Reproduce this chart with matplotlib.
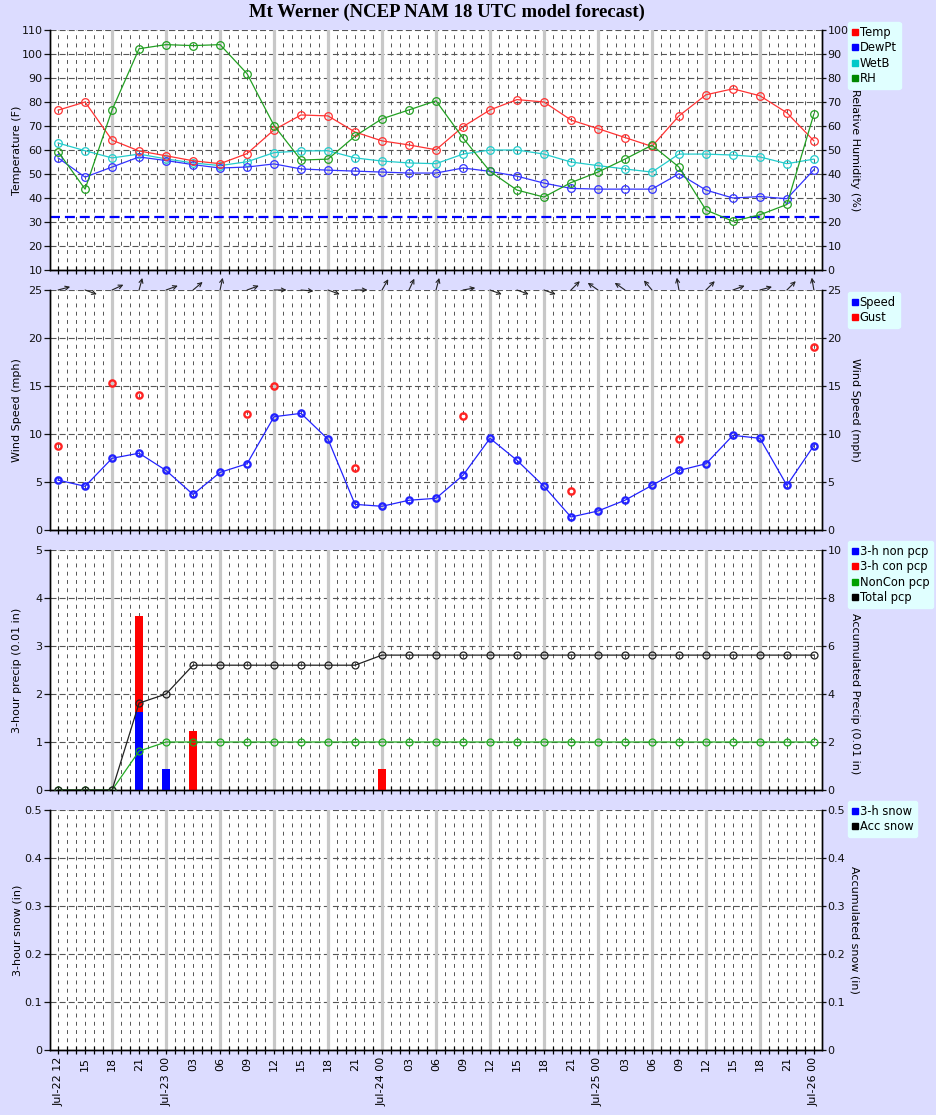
import numpy as np
import matplotlib
matplotlib.use("Agg")
import matplotlib.pyplot as plt
from matplotlib.lines import Line2D
from matplotlib.ticker import MultipleLocator, FuncFormatter
from matplotlib.transforms import offset_copy

# forecast hours from Jul-22 12 UTC, every 3 h
hours = np.arange(0, 85, 3)
tick_labels = ["Jul-22 12", "15", "18", "21",
               "Jul-23 00", "03", "06", "09", "12", "15", "18", "21",
               "Jul-24 00", "03", "06", "09", "12", "15", "18", "21",
               "Jul-25 00", "03", "06", "09", "12", "15", "18", "21",
               "Jul-26 00"]

temp = [76.6, 80.0, 64.1, 59.6, 57.6, 55.5, 54.3, 58.5, 68.4, 74.6, 74.2, 67.5,
        63.8, 62.1, 60.1, 69.7, 76.7, 81.0, 80.0, 72.5, 68.9, 65.2, 61.5, 74.2,
        83.0, 85.5, 82.6, 75.5, 63.8]
dewpt = [56.7, 48.7, 52.9, 57.1, 55.6, 53.9, 52.5, 52.9, 54.2, 52.1, 51.6, 51.2,
         50.8, 50.4, 50.4, 52.5, 51.1, 49.1, 46.2, 44.0, 43.7, 43.7, 43.7, 50.1,
         43.3, 40.0, 40.6, 39.7, 51.8]
wetb = [62.9, 59.7, 56.7, 58.3, 56.3, 54.6, 53.5, 55.1, 58.9, 59.6, 59.7, 56.7,
        55.4, 54.6, 54.3, 58.3, 60.0, 60.0, 58.3, 55.0, 53.5, 52.1, 50.8, 58.3,
        58.3, 57.9, 57.1, 54.3, 56.2]
rh = [49.3, 33.7, 66.7, 92.2, 93.9, 93.5, 93.9, 81.8, 60.2, 45.8, 46.2, 55.8,
      63.0, 66.7, 70.5, 55.0, 41.1, 33.3, 30.4, 36.4, 40.8, 46.2, 52.0, 42.9,
      25.0, 20.3, 23.0, 27.3, 65.0]

speed = [5.2, 4.55, 7.47, 8.0, 6.2, 3.7, 6.0, 6.9, 11.8, 12.15, 9.45, 2.67,
         2.47, 3.1, 3.3, 5.7, 9.55, 7.26, 4.55, 1.35, 1.98, 3.1, 4.65, 6.2,
         6.9, 9.86, 9.55, 4.65, 8.8]
nan = np.nan
gust = [8.7, nan, 15.3, 14.1, nan, nan, nan, 12.05, 15.0, nan, nan, 6.5,
        nan, nan, nan, 11.85, nan, nan, nan, 4.05, nan, nan, nan, 9.45,
        nan, nan, nan, nan, 19.05]
# direction the wind blows from (deg)
wind_dir = [255, 290, 245, 195, 250, 230, 192, 250, 270, 275, 290, 270,
            210, 205, 195, 260, 290, 290, 290, 225, 125, 125, 140, 170,
            225, 250, 255, 225, 170]

pcp_non = [0, 0, 0, 1.62, 0.44, 0, 0, 0, 0, 0, 0, 0, 0, 0, 0, 0, 0, 0, 0, 0,
           0, 0, 0, 0, 0, 0, 0, 0, 0]
pcp_con = [0, 0, 0, 2.0, 0, 1.23, 0, 0, 0, 0, 0, 0, 0.44, 0, 0, 0, 0, 0, 0, 0,
           0, 0, 0, 0, 0, 0, 0, 0, 0]
acc_noncon = [0, 0, 0, 1.62] + [2.0] * 25
acc_total = [0, 0, 0, 3.62, 4.0] + [5.2] * 7 + [5.62] * 17

BG = "#dcdcff"
W, H = 937, 1115
L, PW, PH = 50, 772, 240
FS = 8

plt.rcParams["font.family"] = "DejaVu Sans"
fig = plt.figure(figsize=(W / 100, H / 100), dpi=100, facecolor=BG)


def make_panel(top, ylim_l, step_l, ylim_r, step_r, fmt=None, bottom=False):
    ax = fig.add_axes([L / W, 1 - (top + PH) / H, PW / W, PH / H])
    ax.set_facecolor("white")
    ax.set_xlim(-0.9, 84.9)
    ax.set_ylim(*ylim_l)
    ax.xaxis.set_major_locator(MultipleLocator(3))
    ax.xaxis.set_minor_locator(MultipleLocator(1))
    ax.yaxis.set_major_locator(MultipleLocator(step_l))
    ax.set_axisbelow(True)
    ax.grid(axis="x", which="both", color="#555555", lw=0.7, ls=(0, (4, 4.5)))
    ax.grid(axis="y", which="major", color="#555555", lw=0.8, ls=(0, (5.4, 2.8)))
    for h in range(6, 84, 6):
        ax.axvline(h, color="#c8c8c8", lw=2.3, zorder=1)
    ax.tick_params(axis="x", which="both", direction="inout", length=6,
                   width=0.9, colors="black")
    ax.tick_params(axis="y", direction="out", length=4, width=0.9, pad=1.5,
                   labelsize=FS, colors="#111111")
    ax.spines["top"].set_visible(False)
    if bottom:
        ax.set_xticks(hours)
        ax.set_xticklabels(tick_labels, rotation=90, fontsize=FS)
        ax.tick_params(axis="x", which="major", pad=2)
    else:
        ax.tick_params(axis="x", labelbottom=False)
    tw = ax.twinx()
    tw.set_ylim(*ylim_r)
    tw.yaxis.set_major_locator(MultipleLocator(step_r))
    tw.tick_params(axis="y", direction="out", length=3, width=0.9, pad=1,
                   labelsize=FS, colors="#111111")
    tw.spines["top"].set_visible(False)
    if fmt is not None:
        ax.yaxis.set_major_formatter(FuncFormatter(fmt))
        tw.yaxis.set_major_formatter(FuncFormatter(fmt))
    for a in (ax, tw):
        for s in a.spines.values():
            s.set_linewidth(1.0)
    return ax, tw


def set_labels(ax, tw, left, right, ry=0.5):
    ax.set_ylabel(left, fontsize=FS)
    ax.yaxis.set_label_coords(-0.036, 0.5)
    tw.set_ylabel(right, fontsize=FS, rotation=270, va="bottom")
    tw.yaxis.set_label_coords(1.036, ry)


def add_legend(ax, labels, colors, top_px):
    handles = [Line2D([], [], ls="none", marker="s", ms=4.5, mfc=c, mec=c)
               for c in colors]
    leg = ax.legend(handles, labels, loc="upper left",
                    bbox_to_anchor=(848 / W, 1 - top_px / H),
                    bbox_transform=fig.transFigure, borderaxespad=0,
                    fancybox=True, facecolor="#e0ffff", edgecolor="#e0ffff",
                    framealpha=1, fontsize=8.3, handlelength=0.45,
                    handletextpad=0.2, labelspacing=0.2, borderpad=0.35)
    leg.set_zorder(10)


# ---- panel 1: temperature / humidity
ax1, tw1 = make_panel(30, (10, 110), 10, (0, 100), 10)
ax1.axhline(32, color="#0000ff", lw=1.6, dashes=(4.5, 2.2), zorder=2)
kw = dict(marker="o", mfc="none", ms=5.5, mew=0.9, lw=0.9, zorder=3)
ax1.plot(hours, wetb, color="#22cccc", **kw)
ax1.plot(hours, dewpt, color="#3333ff", **kw)
ax1.plot(hours, temp, color="#ff3333", **kw)
tw1.plot(hours, rh, color="#22a022", **kw)
set_labels(ax1, tw1, "Temperature (F)", "Relative Humidity (%)")
add_legend(tw1, ["Temp", "DewPt", "WetB", "RH"],
           ["#ff0000", "#0000ff", "#00c8c8", "#008800"], 22)

# ---- panel 2: wind
ax2, tw2 = make_panel(290, (0, 25), 5, (0, 25), 5)
ax2.plot(hours, speed, color="#2222ff", marker="o", mfc="none", ms=4.5,
         mew=1.7, lw=0.9, zorder=3)
ax2.plot(hours, gust, color="#ff2222", ls="none", marker="o", mfc="none",
         ms=4.5, mew=1.7, zorder=3)
for h, d in zip(hours, wind_dir):
    ang = np.deg2rad(270 - d)
    tip = offset_copy(ax2.transData, fig=fig, x=9 * np.cos(ang),
                      y=9 * np.sin(ang), units="points")
    ax2.annotate("", xy=(h, 25), xycoords=tip, xytext=(h, 25),
                 textcoords="data", annotation_clip=False,
                 arrowprops=dict(arrowstyle="->", color="#222222", lw=0.8,
                                 shrinkA=0, shrinkB=0, mutation_scale=7))
set_labels(ax2, tw2, "Wind Speed (mph)", "Wind Speed (mph)")
add_legend(tw2, ["Speed", "Gust"], ["#0000ff", "#ff0000"], 292)

# ---- panel 3: precipitation
ax3, tw3 = make_panel(550, (0, 5), 1, (0, 10), 2)
ax3.bar(hours, pcp_non, width=0.9, color="#0000ff", zorder=3)
ax3.bar(hours, pcp_con, width=0.9, bottom=pcp_non, color="#ff0000", zorder=3)
kw = dict(marker="o", mfc="none", ms=5, mew=0.9, lw=0.9, zorder=3)
tw3.plot(hours, acc_noncon, color="#22aa22", **kw)
tw3.plot(hours, acc_total, color="#222222", **kw)
set_labels(ax3, tw3, "3-hour precip (0.01 in)", "Accumulated Precip (0.01 in)",
           ry=0.40)
add_legend(tw3, ["3-h non pcp", "3-h con pcp", "NonCon pcp", "Total pcp"],
           ["#0000ff", "#ff0000", "#00a000", "#000000"], 541)

# ---- panel 4: snow
snow_fmt = lambda v, p: "0" if abs(v) < 1e-9 else f"{v:.1f}"
ax4, tw4 = make_panel(810, (0, 0.5), 0.1, (0, 0.5), 0.1, fmt=snow_fmt,
                      bottom=True)
set_labels(ax4, tw4, "3-hour snow (in)", "Accumulated snow (in)")
add_legend(tw4, ["3-h snow", "Acc snow"], ["#0000ff", "#000000"], 801)

fig.text(446.5 / W, 1 - 12 / H, "Mt Werner (NCEP NAM 18 UTC model forecast)",
         ha="center", va="center", fontsize=13.5, fontweight="bold",
         family="Liberation Serif")

fig.savefig("out.png", dpi=100, facecolor=BG)
